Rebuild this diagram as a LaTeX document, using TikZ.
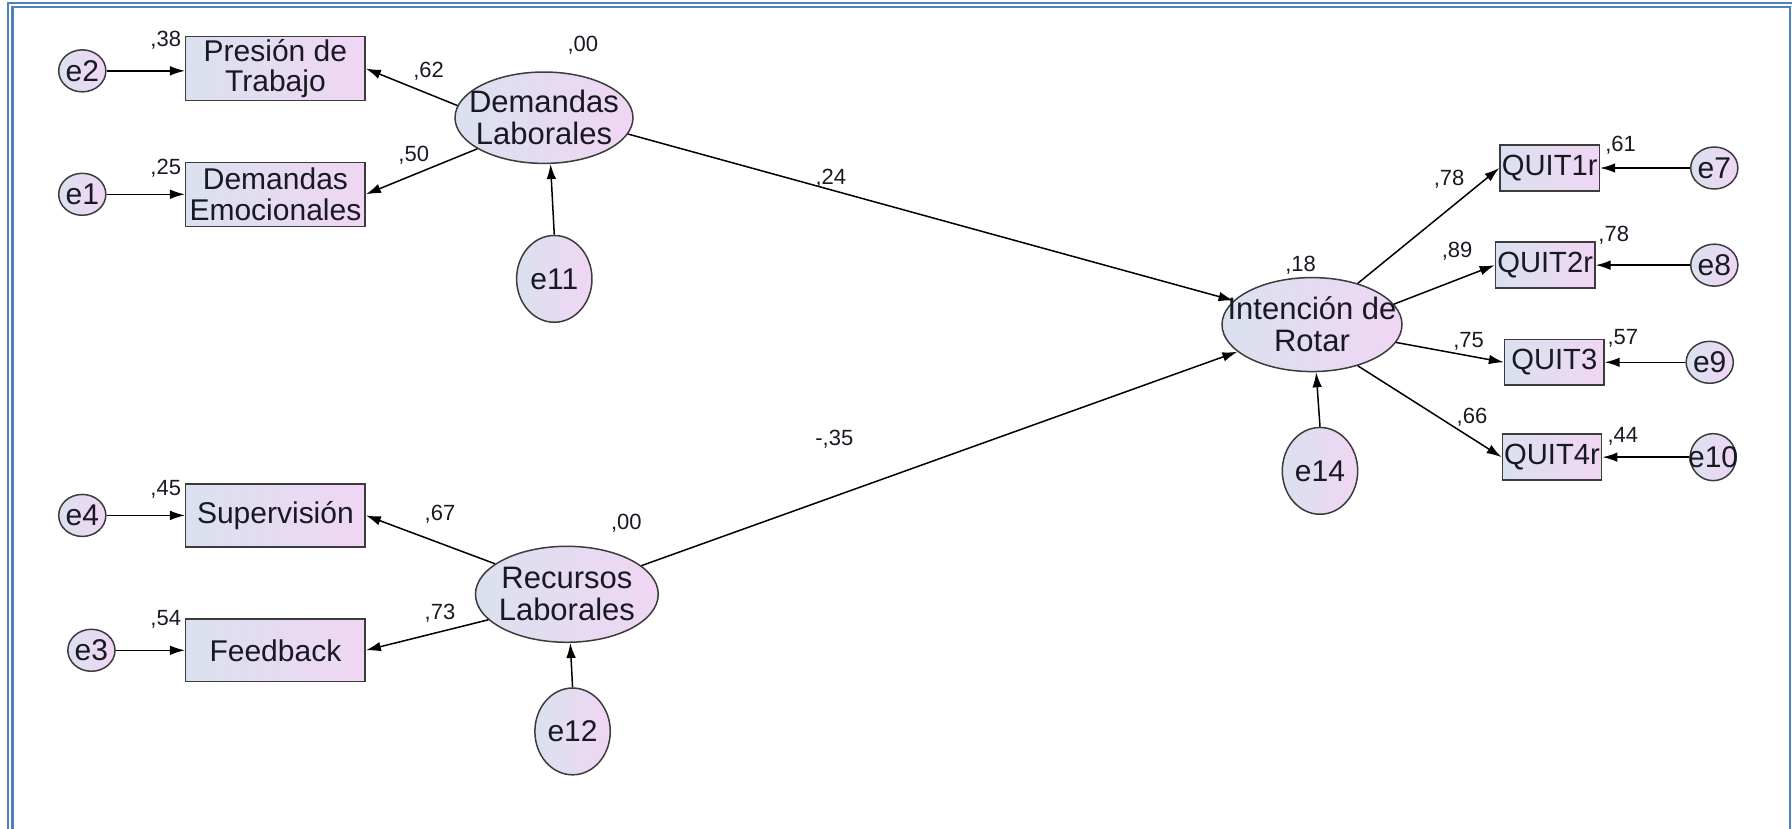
\documentclass[tikz,border=0pt]{standalone}
\usepackage{fontspec}
\setmainfont{Liberation Sans}
\usetikzlibrary{shapes.geometric,arrows.meta}
\definecolor{frameblue}{RGB}{79,129,189}
\definecolor{fillblue}{RGB}{218,225,238}
\definecolor{fillpink}{RGB}{240,214,244}
\definecolor{edgegray}{RGB}{60,60,60}
\definecolor{ink}{RGB}{25,25,35}
\begin{document}
\begin{tikzpicture}[x=0.5715pt,y=-0.5715pt,
  every node/.style={text=ink},
  obsvar/.style={rectangle, draw=edgegray, line width=0.75pt,
    left color=fillblue, right color=fillpink, inner sep=0pt,
    align=center, font=\fontsize{15}{15.5}\selectfont},
  bigbox/.style={obsvar, minimum width=89.7pt, minimum height=32pt},
  quitbox/.style={obsvar, minimum width=49.7pt, minimum height=22.9pt,
    font=\fontsize{14.6}{15}\selectfont},
  latent/.style={ellipse, draw=edgegray, line width=0.75pt,
    left color=fillblue, right color=fillpink, inner sep=0pt},
  lattext/.style={align=center, inner sep=0pt, font=\fontsize{15.5}{16}\selectfont},
  errsmall/.style={ellipse, draw=edgegray, line width=0.75pt,
    left color=fillblue, right color=fillpink, inner sep=0pt,
    minimum width=19.8pt, minimum height=21pt,
    font=\fontsize{15}{15}\selectfont},
  errbig/.style={ellipse, draw=edgegray, line width=0.75pt,
    left color=fillblue, right color=fillpink, inner sep=0pt,
    minimum width=37.7pt, minimum height=43.4pt,
    font=\fontsize{15}{15}\selectfont},
  errtext/.style={inner sep=0pt, font=\fontsize{15}{15}\selectfont},
  coef/.style={inner sep=0pt, font=\fontsize{11}{12}\selectfont},
  path/.style={-{Latex[length=7.5pt,width=4.8pt]}, line width=0.75pt, draw=black}
]
\useasboundingbox (0,0) rectangle (1568,725);

% double frame
\draw[frameblue, line width=1.2pt] (7,2.6) rectangle (1580,740);
\draw[frameblue, line width=1.2pt] (10.9,6.1) rectangle (1566,740);

% observed indicators, left side
\node[bigbox] (pres) at (241,60) {Presión de\\Trabajo};
\node[bigbox] (emo) at (241,170) {Demandas\\Emocionales};
\node[bigbox, minimum height=31.4pt] (sup) at (241,451) {Supervisión};
\node[bigbox, minimum height=31.4pt] (feed) at (241,569) {Feedback};

% observed indicators, right side
\node[quitbox] (q1) at (1356,147) {QUIT1r};
\node[quitbox] (q2) at (1352,232) {QUIT2r};
\node[quitbox] (q3) at (1360,317) {QUIT3};
\node[quitbox] (q4) at (1358,400) {QUIT4r};

% latent constructs
\node[latent, minimum width=89pt, minimum height=45.7pt] (DL) at (476,103) {};
\node[lattext] (DLt) at (DL.center) {Demandas\\Laborales};
\node[latent, minimum width=91.4pt, minimum height=48pt] (RL) at (496,520) {};
\node[lattext] (RLt) at (RL.center) {Recursos\\Laborales};
\node[latent, minimum width=90pt, minimum height=47pt] (IR) at (1148,284) {};
\node[lattext] (IRt) at (IR.center) {Intención de\\Rotar};

% error terms
\node[errsmall] (e2) at (72,62) {e2};
\node[errsmall] (e1) at (72,170) {e1};
\node[errsmall] (e4) at (72,451) {e4};
\node[errsmall] (e3) at (80,569) {e3};
\node[errsmall] (e7) at (1500,147) {e7};
\node[errsmall] (e8) at (1500,232) {e8};
\node[errsmall] (e9) at (1496,317) {e9};
\node[errsmall, minimum width=23pt, minimum height=23.5pt] (e10) at (1499,400) {};
\node[errtext] (e10t) at (e10.center) {e10};
\node[errbig] (e11) at (485,244) {e11};
\node[errbig] (e12) at (501,640) {e12};
\node[errbig] (e14) at (1155,412) {e14};

% error paths
\draw[path] (e2.east) -- (e2.east -| pres.west);
\draw[path] (e1.east) -- (e1.east -| emo.west);
\draw[path] (e4.east) -- (e4.east -| sup.west);
\draw[path] (e3.east) -- (e3.east -| feed.west);
\draw[path] (e7.west) -- (e7.west -| q1.east);
\draw[path] (e8.west) -- (e8.west -| q2.east);
\draw[path] (e9.west) -- (e9.west -| q3.east);
\draw[path] (e10.west) -- (e10.west -| q4.east);
\draw[path] (e11.north) -- (DL.-82);
\draw[path] (e12.north) -- (RL.-86);
\draw[path] (e14.north) -- (IR.-85);

% loadings
\draw[path] (DL.172) -- (pres.east);
\draw[path] (DL.205) -- (emo.east);
\draw[path] (RL.157) -- (sup.east);
\draw[path] (RL.198) -- (feed.east);
\draw[path] (IR.42) -- (q1.west);
\draw[path] (IR.14) -- (q2.west);
\draw[path] (IR.-12) -- (q3.west);
\draw[path] (IR.-42) -- (q4.west);

% structural paths
\draw[path] (DL.-11) -- (IR.163);
\draw[path] (RL.21) -- (IR.200);

% coefficients
\node[coef] (c38) at (145,35) {,38};
\node[coef] (c25) at (145,147) {,25};
\node[coef] (c45) at (145,428) {,45};
\node[coef] (c54) at (145,542) {,54};
\node[coef] (c62) at (375,62) {,62};
\node[coef] (c50) at (362,136) {,50};
\node[coef] (c00a) at (510,40) {,00};
\node[coef] (c67) at (385,450) {,67};
\node[coef] (c73) at (385,537) {,73};
\node[coef] (c00b) at (548,458) {,00};
\node[coef] (c24) at (727,156) {,24};
\node[coef] (c35) at (730,384) {-,35};
\node[coef] (c18) at (1138,232) {,18};
\node[coef] (c78a) at (1268,157) {,78};
\node[coef] (c89) at (1275,220) {,89};
\node[coef] (c75) at (1285,299) {,75};
\node[coef] (c66) at (1288,365) {,66};
\node[coef] (c61) at (1418,127) {,61};
\node[coef] (c78b) at (1412,206) {,78};
\node[coef] (c57) at (1420,296) {,57};
\node[coef] (c44) at (1420,382) {,44};
\end{tikzpicture}
\end{document}
